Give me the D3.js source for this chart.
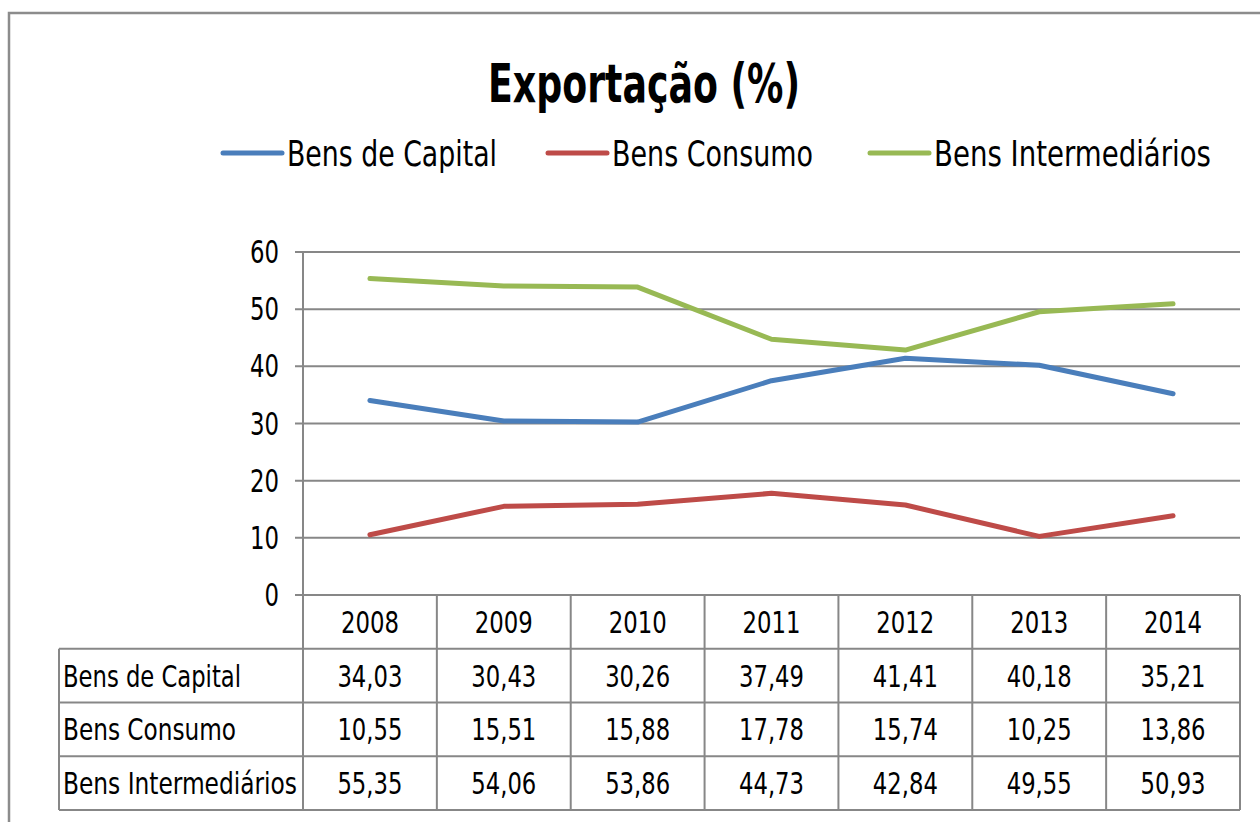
<!DOCTYPE html>
<html>
<head>
<meta charset="utf-8">
<script src="https://cdn.jsdelivr.net/npm/d3@7"></script>
<style>
  body { margin: 0; background: #fff; }
  svg text { font-family: "Liberation Sans Narrow", "DejaVu Sans Condensed", "Arial Narrow", sans-serif; fill: #000; }
</style>
</head>
<body>
<div id="chart"></div>
<script>
var years = ["2008", "2009", "2010", "2011", "2012", "2013", "2014"];
var series_names = ["Bens de Capital", "Bens Consumo", "Bens Intermediários"];
var capital = [34.03, 30.43, 30.26, 37.49, 41.41, 40.18, 35.21];
var consumo = [10.55, 15.51, 15.88, 17.78, 15.74, 10.25, 13.86];
var intermediarios = [55.35, 54.06, 53.86, 44.73, 42.84, 49.55, 50.93];
var y_ticks = [0, 10, 20, 30, 40, 50, 60];

var colors = ["#4a7ebb", "#be4b48", "#98b954"];
var grid_color = "#878787";

var W = 1260, H = 822;
var plot = { left: 303, right: 1240, top: 252, bottom: 595 };
var label_left = 59;
var table_bottom = 810;

var series = [capital, consumo, intermediarios].map(function(v, i) {
    return { name: series_names[i], values: v, color: colors[i] };
});

// squeeze text to a narrow face: digit ~14.5px wide, comma ~7px
function narrow_width(str) {
    var w = 0;
    for (var i = 0; i < str.length; i++) w += (str[i] == "," ? 7 : 14.5);
    return w;
}

var svg = d3.select("#chart").append("svg").attr("width", W).attr("height", H);

// outer frame (runs off the right and bottom)
svg.append("rect").attr("x", 9).attr("y", 13).attr("width", W + 20).attr("height", H + 20)
    .attr("fill", "none").attr("stroke", "#8c8c8c").attr("stroke-width", 2.5);

var x = d3.scaleBand().domain(years).range([plot.left, plot.right]);
var y = d3.scaleLinear().domain([0, 60]).range([plot.bottom, plot.top]);
var rows = d3.scaleBand().domain(["header"].concat(series_names)).range([plot.bottom, table_bottom]);

// title
svg.append("text").attr("x", 644).attr("y", 102).attr("text-anchor", "middle")
    .attr("font-size", 54).attr("font-weight", "bold")
    .attr("textLength", 312).attr("lengthAdjust", "spacingAndGlyphs")
    .text("Exportação (%)");

// legend
var legend_x = [223, 548, 870];
var legend_w = [210, 201, 277];
var lg = svg.append("g").selectAll("g").data(series).enter().append("g")
    .attr("transform", function(d, i) { return "translate(" + legend_x[i] + ",153)"; });
lg.append("line").attr("x1", 0).attr("x2", 59).attr("y1", 0).attr("y2", 0)
    .attr("stroke", function(d) { return d.color; }).attr("stroke-width", 5).attr("stroke-linecap", "round");
lg.append("text").attr("x", 64).attr("y", 13).attr("font-size", 36)
    .attr("textLength", function(d, i) { return legend_w[i]; }).attr("lengthAdjust", "spacingAndGlyphs")
    .text(function(d) { return d.name; });

// gridlines + ticks
var grid = svg.append("g");
grid.selectAll("line").data(y_ticks).enter().append("line")
    .attr("x1", plot.left - 8).attr("x2", plot.right)
    .attr("y1", function(d) { return y(d); }).attr("y2", function(d) { return y(d); })
    .attr("stroke", grid_color).attr("stroke-width", 2);
grid.selectAll("text").data(y_ticks).enter().append("text")
    .attr("x", 279).attr("y", function(d) { return y(d) + 11; })
    .attr("text-anchor", "end").attr("font-size", 32)
    .attr("textLength", function(d) { return narrow_width(String(d)); }).attr("lengthAdjust", "spacingAndGlyphs")
    .text(function(d) { return d; });

// y axis line, runs down the table's label edge
svg.append("line").attr("x1", plot.left).attr("x2", plot.left).attr("y1", plot.top).attr("y2", table_bottom)
    .attr("stroke", grid_color).attr("stroke-width", 2);

// data table
var tbl = svg.append("g");
tbl.selectAll(".vdiv").data(years).enter().append("line")
    .attr("x1", function(d) { return x(d) + x.bandwidth(); }).attr("x2", function(d) { return x(d) + x.bandwidth(); })
    .attr("y1", plot.bottom).attr("y2", table_bottom)
    .attr("stroke", grid_color).attr("stroke-width", 2);
tbl.selectAll(".hdiv").data(series_names).enter().append("line")
    .attr("x1", label_left).attr("x2", plot.right)
    .attr("y1", function(d) { return rows(d); }).attr("y2", function(d) { return rows(d); })
    .attr("stroke", grid_color).attr("stroke-width", 2);
tbl.append("line").attr("x1", label_left).attr("x2", plot.right).attr("y1", table_bottom).attr("y2", table_bottom)
    .attr("stroke", grid_color).attr("stroke-width", 2);
tbl.append("line").attr("x1", label_left).attr("x2", label_left).attr("y1", rows(series_names[0])).attr("y2", table_bottom)
    .attr("stroke", grid_color).attr("stroke-width", 2);

tbl.selectAll(".yr").data(years).enter().append("text")
    .attr("x", function(d) { return x(d) + x.bandwidth() / 2; })
    .attr("y", rows("header") + rows.bandwidth() / 2 + 11)
    .attr("text-anchor", "middle").attr("font-size", 31)
    .attr("textLength", function(d) { return narrow_width(d); }).attr("lengthAdjust", "spacingAndGlyphs")
    .text(function(d) { return d; });

var label_w = [178, 173, 234];
var fmt = function(v) { return d3.format(".2f")(v).replace(".", ","); };
series.forEach(function(s, k) {
    var cy = rows(s.name) + rows.bandwidth() / 2 + 11;
    tbl.append("text").attr("x", label_left + 4).attr("y", cy).attr("font-size", 31)
        .attr("textLength", label_w[k]).attr("lengthAdjust", "spacingAndGlyphs")
        .text(s.name);
    tbl.selectAll(null).data(s.values).enter().append("text")
        .attr("x", function(d, i) { return x(years[i]) + x.bandwidth() / 2; })
        .attr("y", cy).attr("text-anchor", "middle").attr("font-size", 31)
        .attr("textLength", function(d) { return narrow_width(fmt(d)); }).attr("lengthAdjust", "spacingAndGlyphs")
        .text(function(d) { return fmt(d); });
});

// lines
var line = d3.line()
    .x(function(d, i) { return x(years[i]) + x.bandwidth() / 2; })
    .y(function(d) { return y(d); });
svg.append("g").selectAll("path").data(series).enter().append("path")
    .attr("d", function(d) { return line(d.values); })
    .attr("fill", "none").attr("stroke", function(d) { return d.color; })
    .attr("stroke-width", 5).attr("stroke-linejoin", "round").attr("stroke-linecap", "round");
</script>
</body>
</html>
